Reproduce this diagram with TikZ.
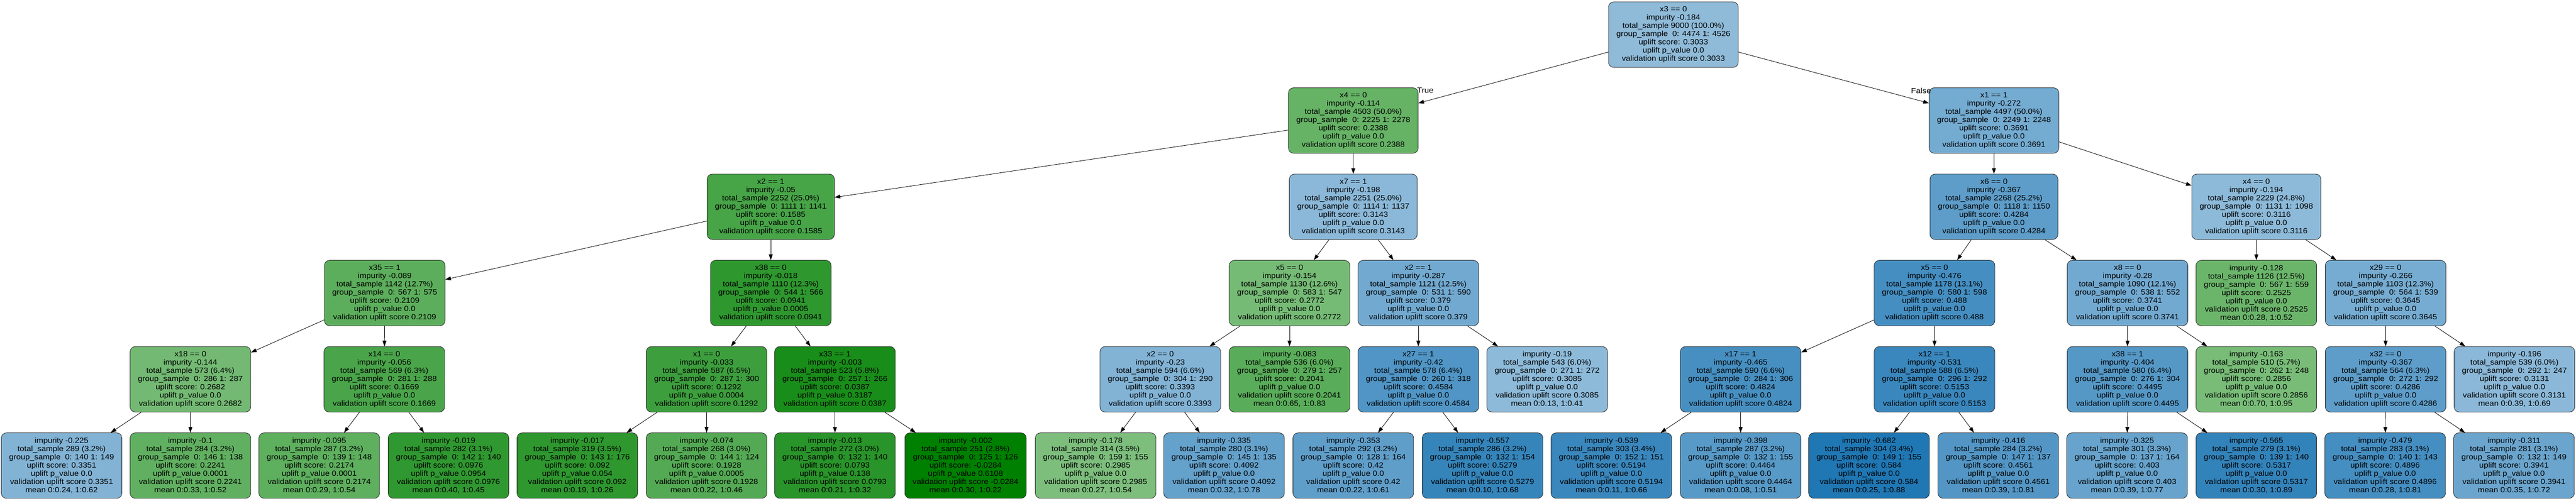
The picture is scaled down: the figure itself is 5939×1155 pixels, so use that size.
\documentclass[tikz,border=0pt]{standalone}
\usepackage{fontspec}
\setmainfont{Liberation Sans}[FakeStretch=1.09]
\usepackage{tikz}
\usetikzlibrary{arrows.meta}
\definecolor{tblue}{HTML}{1F77B4}
\definecolor{tgreen}{HTML}{008000}
\newcommand{\splitlbl}[7]{#1\\impurity #2\\total\_sample #3\\group\_sample~~0: #4 1: #5\\uplift score: #6\\uplift p\_value #7\\validation uplift score #6}
\newcommand{\leaflbl}[7]{impurity #1\\total\_sample #2\\group\_sample~~0: #3 1: #4\\uplift score: #5\\uplift p\_value #6\\validation uplift score #5\\mean #7}
\begin{document}
\begin{tikzpicture}[x=0.5pt,y=-0.5pt,>={Triangle[length=6.5pt,width=4.5pt]},line width=0.5pt,
	box/.style={rectangle,rounded corners=6pt,draw=black!85,align=center,inner xsep=9pt,inner ysep=0pt,minimum height=75.5pt,font=\fontsize{8.6}{9.5}\selectfont},
	gnode/.style={box,fill=tgreen!#1!white},
	bnode/.style={box,fill=tblue!#1!white},
	lbl/.style={font=\fontsize{8.6}{9.5}\selectfont,inner sep=0pt}]
			\useasboundingbox(0,0)rectangle(5939,1155);
			% level 0 and 1
			\node[bnode=50](n)at(3858,80){\splitlbl{x3 == 0}{-0.184}{9000 (100.0\%)}{4474}{4526}{0.3033}{0.0}};
			\node[gnode=60](nl)at(3120,278){\splitlbl{x4 == 0}{-0.114}{4503 (50.0\%)}{2225}{2278}{0.2388}{0.0}};
			\node[bnode=62](nr)at(4597,278){\splitlbl{x1 == 1}{-0.272}{4497 (50.0\%)}{2249}{2248}{0.3691}{0.0}};
			% level 2
			\node[gnode=72](nll)at(1777,477){\splitlbl{x2 == 1}{-0.05}{2252 (25.0\%)}{1111}{1141}{0.1585}{0.0}};
			\node[bnode=52](nlr)at(3120,477){\splitlbl{x7 == 1}{-0.198}{2251 (25.0\%)}{1114}{1137}{0.3143}{0.0}};
			\node[bnode=72](nrl)at(4597,477){\splitlbl{x6 == 0}{-0.367}{2268 (25.2\%)}{1118}{1150}{0.4284}{0.0}};
			\node[bnode=51](nrr)at(5202,477){\splitlbl{x4 == 0}{-0.194}{2229 (24.8\%)}{1131}{1098}{0.3116}{0.0}};
			% level 3
			\node[gnode=64](nlll)at(887,676){\splitlbl{x35 == 1}{-0.089}{1142 (12.7\%)}{567}{575}{0.2109}{0.0}};
			\node[gnode=82](nllr)at(1777,676){\splitlbl{x38 == 0}{-0.018}{1110 (12.3\%)}{544}{566}{0.0941}{0.0005}};
			\node[gnode=54](nlrl)at(2973,676){\splitlbl{x5 == 0}{-0.154}{1130 (12.6\%)}{583}{547}{0.2772}{0.0}};
			\node[bnode=63](nlrr)at(3270,676){\splitlbl{x2 == 1}{-0.287}{1121 (12.5\%)}{531}{590}{0.379}{0.0}};
			\node[bnode=83](nrll)at(4460,676){\splitlbl{x5 == 0}{-0.476}{1178 (13.1\%)}{580}{598}{0.488}{0.0}};
			\node[bnode=63](nrlr)at(4905,676){\splitlbl{x8 == 0}{-0.28}{1090 (12.1\%)}{538}{552}{0.3741}{0.0}};
			\node[gnode=58](nrrl)at(5202,676){\leaflbl{-0.128}{1126 (12.5\%)}{567}{559}{0.2525}{0.0}{0:0.28, 1:0.52}};
			\node[bnode=61](nrrr)at(5500,676){\splitlbl{x29 == 0}{-0.266}{1103 (12.3\%)}{564}{539}{0.3645}{0.0}};
			% level 4
			\node[gnode=55](nllll)at(439,875){\splitlbl{x18 == 0}{-0.144}{573 (6.4\%)}{286}{287}{0.2682}{0.0}};
			\node[gnode=71](nlllr)at(886,875){\splitlbl{x14 == 0}{-0.056}{569 (6.3\%)}{281}{288}{0.1669}{0.0}};
			\node[gnode=76](nllrl)at(1629,875){\splitlbl{x1 == 0}{-0.033}{587 (6.5\%)}{287}{300}{0.1292}{0.0004}};
			\node[gnode=90](nllrr)at(1925,875){\splitlbl{x33 == 1}{-0.003}{523 (5.8\%)}{257}{266}{0.0387}{0.3187}};
			\node[bnode=56](nlrll)at(2675,875){\splitlbl{x2 == 0}{-0.23}{594 (6.6\%)}{304}{290}{0.3393}{0.0}};
			\node[gnode=65](nlrlr)at(2973,875){\leaflbl{-0.083}{536 (6.0\%)}{279}{257}{0.2041}{0.0}{0:0.65, 1:0.83}};
			\node[bnode=78](nlrrl)at(3270,875){\splitlbl{x27 == 1}{-0.42}{578 (6.4\%)}{260}{318}{0.4584}{0.0}};
			\node[bnode=51](nlrrr)at(3567,875){\leaflbl{-0.19}{543 (6.0\%)}{271}{272}{0.3085}{0.0}{0:0.13, 1:0.41}};
			\node[bnode=82](nrlll)at(4013,875){\splitlbl{x17 == 1}{-0.465}{590 (6.6\%)}{284}{306}{0.4824}{0.0}};
			\node[bnode=88](nrllr)at(4460,875){\splitlbl{x12 == 1}{-0.531}{588 (6.5\%)}{296}{292}{0.5153}{0.0}};
			\node[bnode=76](nrlrl)at(4905,875){\splitlbl{x38 == 1}{-0.404}{580 (6.4\%)}{276}{304}{0.4495}{0.0}};
			\node[gnode=53](nrlrr)at(5202,875){\leaflbl{-0.163}{510 (5.7\%)}{262}{248}{0.2856}{0.0}{0:0.70, 1:0.95}};
			\node[bnode=72](nrrrl)at(5500,875){\splitlbl{x32 == 0}{-0.367}{564 (6.3\%)}{272}{292}{0.4286}{0.0}};
			\node[bnode=52](nrrrr)at(5797,875){\leaflbl{-0.196}{539 (6.0\%)}{292}{247}{0.3131}{0.0}{0:0.39, 1:0.69}};
			% level 5
			\node[bnode=56](nlllll)at(142,1074){\leaflbl{-0.225}{289 (3.2\%)}{140}{149}{0.3351}{0.0}{0:0.24, 1:0.62}};
			\node[gnode=62](nllllr)at(439,1074){\leaflbl{-0.1}{284 (3.2\%)}{146}{138}{0.2241}{0.0001}{0:0.33, 1:0.52}};
			\node[gnode=63](nlllrl)at(736,1074){\leaflbl{-0.095}{287 (3.2\%)}{139}{148}{0.2174}{0.0001}{0:0.29, 1:0.54}};
			\node[gnode=81](nlllrr)at(1034,1074){\leaflbl{-0.019}{282 (3.1\%)}{142}{140}{0.0976}{0.0954}{0:0.40, 1:0.45}};
			\node[gnode=82](nllrll)at(1331,1074){\leaflbl{-0.017}{319 (3.5\%)}{143}{176}{0.092}{0.054}{0:0.19, 1:0.26}};
			\node[gnode=67](nllrlr)at(1629,1074){\leaflbl{-0.074}{268 (3.0\%)}{144}{124}{0.1928}{0.0005}{0:0.22, 1:0.46}};
			\node[gnode=84](nllrrl)at(1925,1074){\leaflbl{-0.013}{272 (3.0\%)}{132}{140}{0.0793}{0.138}{0:0.21, 1:0.32}};
			\node[gnode=100](nllrrr)at(2226,1074){\leaflbl{-0.002}{251 (2.8\%)}{125}{126}{-0.0284}{0.6108}{0:0.30, 1:0.22}};
			\node[gnode=51](nlrlll)at(2526,1074){\leaflbl{-0.178}{314 (3.5\%)}{159}{155}{0.2985}{0.0}{0:0.27, 1:0.54}};
			\node[bnode=69](nlrllr)at(2822,1074){\leaflbl{-0.335}{280 (3.1\%)}{145}{135}{0.4092}{0.0}{0:0.32, 1:0.78}};
			\node[bnode=71](nlrrll)at(3120,1074){\leaflbl{-0.353}{292 (3.2\%)}{128}{164}{0.42}{0.0}{0:0.22, 1:0.61}};
			\node[bnode=90](nlrrlr)at(3418,1074){\leaflbl{-0.557}{286 (3.2\%)}{132}{154}{0.5279}{0.0}{0:0.10, 1:0.68}};
			\node[bnode=88](nrllll)at(3715,1074){\leaflbl{-0.539}{303 (3.4\%)}{152}{151}{0.5194}{0.0}{0:0.11, 1:0.66}};
			\node[bnode=75](nrlllr)at(4013,1074){\leaflbl{-0.398}{287 (3.2\%)}{132}{155}{0.4464}{0.0}{0:0.08, 1:0.51}};
			\node[bnode=100](nrllrl)at(4309,1074){\leaflbl{-0.682}{304 (3.4\%)}{149}{155}{0.584}{0.0}{0:0.25, 1:0.88}};
			\node[bnode=77](nrllrr)at(4607,1074){\leaflbl{-0.416}{284 (3.2\%)}{147}{137}{0.4561}{0.0}{0:0.39, 1:0.81}};
			\node[bnode=68](nrlrll)at(4904,1074){\leaflbl{-0.325}{301 (3.3\%)}{137}{164}{0.403}{0.0}{0:0.39, 1:0.77}};
			\node[bnode=91](nrlrlr)at(5202,1074){\leaflbl{-0.565}{279 (3.1\%)}{139}{140}{0.5317}{0.0}{0:0.30, 1:0.89}};
			\node[bnode=83](nrrrll)at(5499,1074){\leaflbl{-0.479}{283 (3.1\%)}{140}{143}{0.4896}{0.0}{0:0.28, 1:0.81}};
			\node[bnode=66](nrrrlr)at(5796,1074){\leaflbl{-0.311}{281 (3.1\%)}{132}{149}{0.3941}{0.0}{0:0.35, 1:0.72}};
			% branch labels
			\node[lbl](ltrue)at(3286,209){True};
			\node[lbl](lfalse)at(4429,210){False};
			% edges
			\draw[->](n)--(nl);
			\draw[->](n)--(nr);
			\draw[->](nl)--(nll);
			\draw[->](nl)--(nlr);
			\draw[->](nr)--(nrl);
			\draw[->](nr)--(nrr);
			\draw[->](nll)--(nlll);
			\draw[->](nll)--(nllr);
			\draw[->](nlr)--(nlrl);
			\draw[->](nlr)--(nlrr);
			\draw[->](nrl)--(nrll);
			\draw[->](nrl)--(nrlr);
			\draw[->](nrr)--(nrrl);
			\draw[->](nrr)--(nrrr);
			\draw[->](nlll)--(nllll);
			\draw[->](nlll)--(nlllr);
			\draw[->](nllr)--(nllrl);
			\draw[->](nllr)--(nllrr);
			\draw[->](nlrl)--(nlrll);
			\draw[->](nlrl)--(nlrlr);
			\draw[->](nlrr)--(nlrrl);
			\draw[->](nlrr)--(nlrrr);
			\draw[->](nrll)--(nrlll);
			\draw[->](nrll)--(nrllr);
			\draw[->](nrlr)--(nrlrl);
			\draw[->](nrlr)--(nrlrr);
			\draw[->](nrrr)--(nrrrl);
			\draw[->](nrrr)--(nrrrr);
			\draw[->](nllll)--(nlllll);
			\draw[->](nllll)--(nllllr);
			\draw[->](nlllr)--(nlllrl);
			\draw[->](nlllr)--(nlllrr);
			\draw[->](nllrl)--(nllrll);
			\draw[->](nllrl)--(nllrlr);
			\draw[->](nllrr)--(nllrrl);
			\draw[->](nllrr)--(nllrrr);
			\draw[->](nlrll)--(nlrlll);
			\draw[->](nlrll)--(nlrllr);
			\draw[->](nlrrl)--(nlrrll);
			\draw[->](nlrrl)--(nlrrlr);
			\draw[->](nrlll)--(nrllll);
			\draw[->](nrlll)--(nrlllr);
			\draw[->](nrllr)--(nrllrl);
			\draw[->](nrllr)--(nrllrr);
			\draw[->](nrlrl)--(nrlrll);
			\draw[->](nrlrl)--(nrlrlr);
			\draw[->](nrrrl)--(nrrrll);
			\draw[->](nrrrl)--(nrrrlr);
		\end{tikzpicture}
\end{document}
